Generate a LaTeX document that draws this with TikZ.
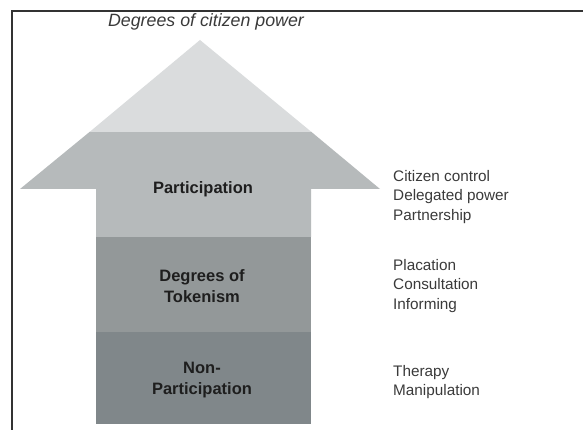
\documentclass[tikz,border=0pt]{standalone}
\usepackage{fontspec}
\setmainfont{Liberation Sans}
\definecolor{bandA}{HTML}{DADCDD}
\definecolor{bandB}{HTML}{B6BABB}
\definecolor{bandC}{HTML}{939899}
\definecolor{bandD}{HTML}{80878A}
\definecolor{inkdark}{HTML}{1E1E1E}
\definecolor{inkgray}{HTML}{3A3A3A}
\definecolor{framegray}{HTML}{333333}
\tikzset{
  bandlabel/.style={font=\bfseries\fontsize{16.5}{20.5}\selectfont, text=inkdark, align=center, inner sep=0pt},
  sidelabel/.style={font=\fontsize{15.3}{19.5}\selectfont, text=inkgray, align=left, anchor=west, inner sep=0pt},
  titlelabel/.style={font=\itshape\fontsize{17.8}{20}\selectfont, text=inkgray, inner sep=0pt},
  framestyle/.style={draw=framegray, line width=1.5pt}
}
\begin{document}
\begin{tikzpicture}[x=1pt,y=-1pt]
\useasboundingbox (0,0) rectangle (583,430);
% arrow bands
\fill[bandD] (96,332) rectangle (311,424);
\fill[bandC] (96,237) rectangle (311,332);
% participation band: shaft + wings below y=132
\fill[bandB] (96,237) -- (96,189) -- (20,189) -- (89.5,132) -- (311.5,132) -- (380,189) -- (311,189) -- (311,237) -- cycle;
% tip
\fill[bandA] (89.5,132) -- (200,40) -- (311.5,132) -- cycle;
% frame
\draw[framestyle] (12,430) -- (12,11) -- (583,11);
% texts
\node[titlelabel] (title) at (206,22) {Degrees of citizen power};
\node[bandlabel] (part) at (203,189) {Participation};
\node[bandlabel] (tok) at (202,286) {Degrees of\\Tokenism};
\node[bandlabel] (non) at (202,380) {Non-\\Participation};
\node[sidelabel] (s1) at (393,197) {Citizen control\\Delegated power\\Partnership};
\node[sidelabel] (s2) at (393,286) {Placation\\Consultation\\Informing};
\node[sidelabel] (s3) at (393,382) {Therapy\\Manipulation};
\end{tikzpicture}
\end{document}
